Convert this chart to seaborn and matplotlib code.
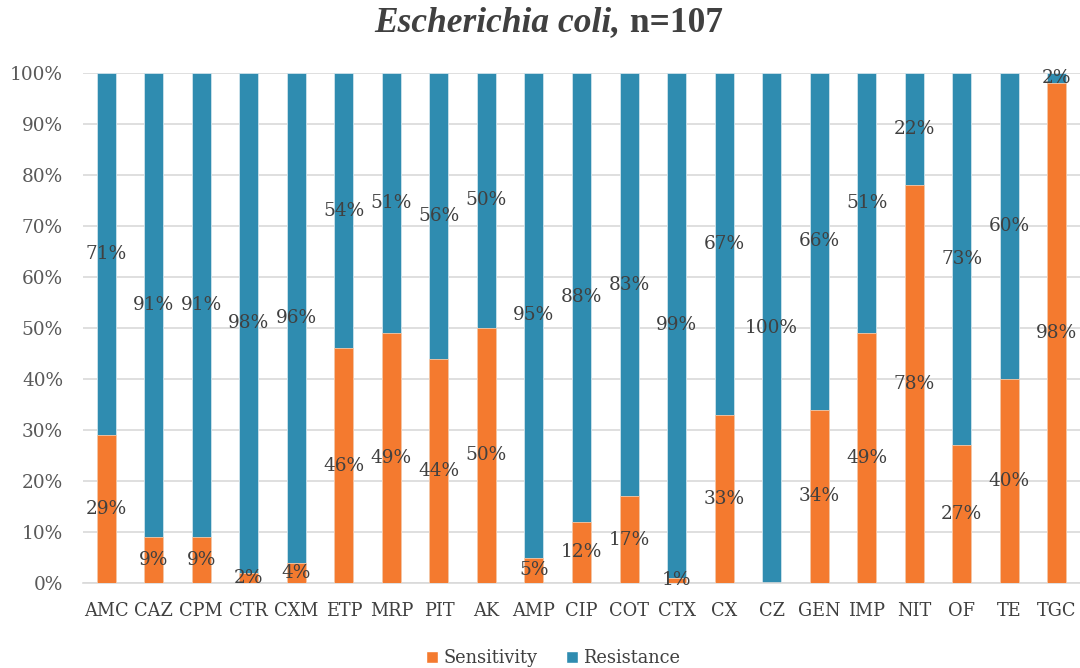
import matplotlib
matplotlib.use("Agg")
import matplotlib.pyplot as plt
import seaborn as sns
import pandas as pd
from matplotlib.patches import Patch

categories = ["AMC", "CAZ", "CPM", "CTR", "CXM", "ETP", "MRP", "PIT", "AK", "AMP", "CIP",
              "COT", "CTX", "CX", "CZ", "GEN", "IMP", "NIT", "OF", "TE", "TGC"]
sensitivity = [29, 9, 9, 2, 4, 46, 49, 44, 50, 5, 12, 17, 1, 33, 0, 34, 49, 78, 27, 40, 98]
resistance = [71, 91, 91, 98, 96, 54, 51, 56, 50, 95, 88, 83, 99, 67, 100, 66, 51, 22, 73, 60, 2]
y_ticks = [0, 10, 20, 30, 40, 50, 60, 70, 80, 90, 100]

orange = "#F47A2F"
blue = "#2F8CB0"
txt = "#404040"
serif = ["DejaVu Serif"]

sns.set_theme(style="white")
plt.rcParams['font.family'] = serif

df = pd.DataFrame({"cat": categories, "sens": sensitivity, "res": resistance})
df["total"] = df["sens"] + df["res"]

fig = plt.figure(figsize=(10.8, 6.68), dpi=100)
ax = fig.add_axes([82.5/1080, 1-583/668, (1080.5-82.5)/1080, (583-73)/668])

sns.barplot(data=df, x="cat", y="total", color=blue, width=0.4, saturation=1,
            ax=ax, edgecolor="#CFE3EC", linewidth=0.6, zorder=2)
sns.barplot(data=df, x="cat", y="sens", color=orange, width=0.4, saturation=1,
            ax=ax, edgecolor="#F8C9A8", linewidth=0.6, zorder=3)

for i, (s, r) in enumerate(zip(sensitivity, resistance)):
    if s > 0:
        ax.text(i, s / 2, f"{s}%", ha="center", va="center", fontsize=13.3, color=txt, zorder=5)
    if r > 0:
        ax.text(i, s + r / 2, f"{r}%", ha="center", va="center", fontsize=13.3, color=txt, zorder=5)

ax.set_ylim(0, 100)
ax.set_xlim(-0.5, len(categories) - 0.5)
ax.set_yticks(y_ticks)
ax.set_yticklabels([f"{v}%" for v in y_ticks], fontsize=13.3, color="#595959")
ax.tick_params(axis="x", labelsize=12.8, labelcolor=txt, length=0, pad=14)
ax.tick_params(axis="y", length=0, pad=14)
ax.set_xlabel("")
ax.set_ylabel("")
ax.yaxis.grid(True, color="#D9D9D9", linewidth=1.2, zorder=0)
ax.set_axisbelow(True)
for sp in ["top", "right", "left"]:
    ax.spines[sp].set_visible(False)
ax.spines["bottom"].set_color("#D9D9D9")
ax.spines["bottom"].set_linewidth(1.2)

handles = [Patch(facecolor=orange, label="Sensitivity"), Patch(facecolor=blue, label="Resistance")]
fig.legend(handles=handles, loc="center", bbox_to_anchor=(553/1080, 1-658/668), ncol=2,
           frameon=False, fontsize=12.8, handlelength=0.68, handleheight=0.68,
           handletextpad=0.3, columnspacing=1.6, labelcolor=txt, borderpad=0)

# Title: italic species name + bold count
tfont = ["Liberation Serif", "DejaVu Serif"]
t1 = fig.text(0, 1-23/668, "Escherichia coli,", fontsize=25.5, fontstyle="italic",
              fontweight="bold", color=txt, ha="left", va="center", family=tfont)
t2 = fig.text(0, 1-23/668, " n=107", fontsize=25.5, fontweight="bold", color=txt,
              ha="left", va="center", family=tfont)
fig.canvas.draw()
r = fig.canvas.get_renderer()
w1 = t1.get_window_extent(r).width
w2 = t2.get_window_extent(r).width
start = 548.5 - (w1 + w2) / 2
t1.set_x(start / 1080)
t2.set_x((start + w1) / 1080)

fig.savefig("out.png", dpi=100)
